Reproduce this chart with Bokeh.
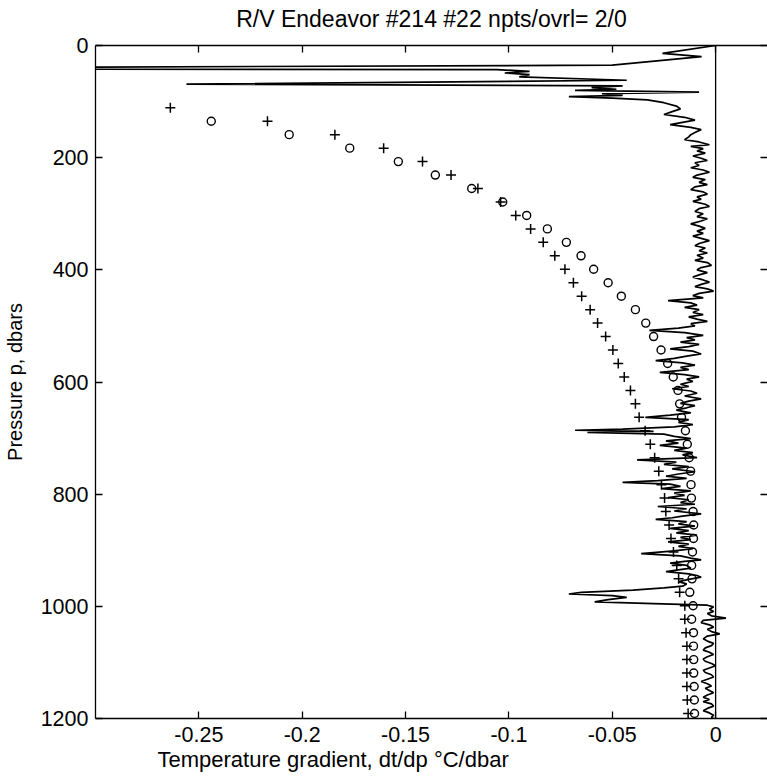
from bokeh.plotting import figure
from bokeh.models import Range1d, LinearAxis, FixedTicker, Span, Title, CustomLabelingPolicy
from bokeh.embed import file_html
from bokeh.resources import INLINE

FONT = "Liberation Sans"

# ---------------- data ----------------
title_text = "R/V Endeavor #214 #22 npts/ovrl= 2/0"
x_label = "Temperature gradient, dt/dp \u00b0C/dbar"
y_label = "Pressure p, dbars"

x_ticks = [-0.25, -0.2, -0.15, -0.1, -0.05, 0.0]
x_tick_labels = ["-0.25", "-0.2", "-0.15", "-0.1", "-0.05", "0"]
y_ticks = [0, 200, 400, 600, 800, 1000, 1200]
y_tick_labels = ["0", "200", "400", "600", "800", "1000", "1200"]

# measured temperature-gradient profile (pressure, dT/dp)
prof_p = [0, 14, 20, 35, 40, 42, 43, 46, 49, 52, 56, 62, 69, 72, 75, 78, 80, 83, 86, 89,
          91, 94, 97, 102, 108, 113, 118, 123, 128, 133, 137, 141, 146, 150, 155, 159, 163, 168, 172, 177,
          180, 184, 188, 192, 197, 201, 205, 209, 214, 218,
          222, 226, 231, 235, 239, 244, 248, 252, 257, 261, 265, 270, 274, 278, 283, 287, 291, 296, 300, 305,
          309, 313, 318, 322, 326, 331, 335, 340, 344, 348, 353, 357, 361, 366, 370, 374, 379, 383, 387, 392,
          396, 400, 405, 409, 413, 418, 422, 426, 430, 434, 438, 442, 446, 450, 455, 459, 463, 467, 471, 476,
          480, 484, 488, 492, 496, 500, 504, 508, 512, 517, 521, 525, 529, 533, 537, 541, 545, 550, 554, 558,
          562, 566, 570, 574, 578, 583, 587, 591, 595, 599, 604, 608, 612, 616, 620, 625, 630, 634, 638, 642,
          646, 650, 655, 659, 663, 667, 672, 676, 680, 684, 686, 688, 690, 693, 697, 701, 705, 709, 713, 718,
          722, 726, 730, 735, 739, 743, 747, 751, 755, 760, 764, 768, 772, 776, 779, 782, 786, 790, 794, 798,
          802, 806, 810, 815, 818, 822, 826, 830, 835, 839, 842, 845, 849, 853, 857, 861, 865, 869, 873, 877,
          881, 885, 889, 893, 897, 901, 906, 910, 914, 917, 920, 923, 927, 932, 935, 938, 942, 945, 948, 952,
          956, 960, 964, 967, 971, 975, 978, 981, 984, 988, 992, 995, 998, 1001, 1005, 1009, 1013, 1017, 1021, 1025,
          1029, 1033, 1037, 1041, 1045, 1049, 1053, 1058, 1062, 1066, 1070, 1074, 1078, 1082, 1086, 1090, 1094, 1098, 1102, 1106,
          1110, 1114, 1118, 1122, 1126, 1130, 1134, 1138, 1142, 1146, 1150, 1154, 1158, 1162, 1166, 1170, 1174, 1178, 1182, 1186,
          1190, 1194, 1198, 1200]
prof_dtdp = [0.000, -0.0257, -0.0068, -0.050, -0.400, -0.400, -0.106, -0.090, -0.102, -0.090, -0.095, -0.043, -0.256, -0.045, -0.060, -0.048, -0.068, -0.008, -0.055, -0.045,
             -0.071, -0.050, -0.033, -0.025, -0.019, -0.017, -0.021, -0.025, -0.015, -0.010, -0.016, -0.022, -0.012, -0.007, -0.010, -0.012, -0.013, -0.015, -0.008, -0.003,
             -0.012, -0.006, -0.009, -0.005, -0.011, -0.007, -0.004, -0.010, -0.008, -0.012,
             -0.006, -0.003, -0.009, -0.011, -0.005, -0.008, -0.004, -0.010, -0.012, -0.006, -0.004, -0.009, -0.007, -0.011, -0.005, -0.003, -0.008, -0.010, -0.006, -0.009,
             -0.004, -0.007, -0.012, -0.008, -0.005, -0.009, -0.006, -0.011, -0.007, -0.003, -0.008, -0.010, -0.005, -0.008, -0.004, -0.009, -0.006, -0.010, -0.004, -0.002,
             -0.007, -0.009, -0.004, -0.008, -0.011, -0.006, -0.003, -0.007, -0.010, -0.004, -0.001, -0.008, -0.011, -0.006, -0.023, -0.012, -0.009, -0.015, -0.008, -0.011,
             -0.006, -0.013, -0.009, -0.004, -0.012, -0.010, -0.018, -0.032, -0.015, -0.006, -0.014, -0.010, -0.017, -0.008, -0.013, -0.022, -0.011, -0.007, -0.014, -0.020,
             -0.029, -0.016, -0.010, -0.017, -0.013, -0.027, -0.015, -0.008, -0.014, -0.011, -0.017, -0.013, -0.021, -0.012, -0.009, -0.015, -0.007, -0.013, -0.017, -0.010,
             -0.014, -0.019, -0.012, -0.022, -0.034, -0.013, -0.018, -0.011, -0.020, -0.045, -0.068, -0.030, -0.062, -0.025, -0.020, -0.012, -0.024, -0.018, -0.027, -0.014,
             -0.020, -0.011, -0.016, -0.009, -0.038, -0.019, -0.025, -0.013, -0.021, -0.010, -0.018, -0.024, -0.014, -0.028, -0.045, -0.022, -0.017, -0.026, -0.012, -0.020,
             -0.015, -0.023, -0.013, -0.017, -0.010, -0.028, -0.014, -0.020, -0.007, -0.016, -0.021, -0.029, -0.014, -0.018, -0.010, -0.022, -0.013, -0.019, -0.009, -0.017,
             -0.012, -0.023, -0.013, -0.018, -0.011, -0.020, -0.036, -0.017, -0.012, -0.007, -0.015, -0.022, -0.014, -0.012, -0.018, -0.024, -0.013, -0.009, -0.007, -0.013,
             -0.018, -0.014, -0.016, -0.025, -0.040, -0.065, -0.071, -0.050, -0.043, -0.052, -0.0585, -0.030, -0.004, -0.001, -0.003, -0.001, -0.004, -0.002, 0.005, -0.006,
             -0.007, -0.003, -0.001, -0.004, -0.002, 0.002, -0.004, -0.006, -0.004, -0.001, -0.002, -0.005, -0.006, -0.003, -0.001, -0.004, -0.006, -0.005, -0.002, 0.000,
             -0.003, -0.006, -0.005, -0.002, -0.001, -0.004, -0.007, -0.004, -0.002, -0.005, -0.003, -0.001, -0.004, -0.006, -0.003, -0.006, -0.002, -0.001, -0.004, -0.006,
             -0.003, -0.001, -0.002, -0.001]

# fitted-gradient estimates at the binned pressures
marker_p = [111, 135, 159, 183, 207, 231, 255, 279, 303, 327,
            351, 375, 399, 423, 447, 471, 495, 519, 543, 567,
            591, 615, 639, 663, 687, 711, 735, 759, 783, 807,
            831, 855, 879, 903, 927, 951, 975, 999, 1023, 1047,
            1071, 1095, 1119, 1143, 1167, 1191]
plus_dtdp = [-0.2638, -0.2168, -0.1842, -0.1606, -0.1418, -0.128, -0.115, -0.104, -0.0967, -0.0895,
             -0.0834, -0.0778, -0.0729, -0.0688, -0.0648, -0.0607, -0.0571, -0.0532, -0.0497, -0.0471,
             -0.0442, -0.0412, -0.0388, -0.0370, -0.0341, -0.0316, -0.0295, -0.0275, -0.0262, -0.0247,
             -0.0241, -0.0225, -0.0216, -0.0204, -0.0188, -0.0179, -0.0174, -0.0149, -0.0149, -0.0143,
             -0.0139, -0.0139, -0.0139, -0.0139, -0.0137, -0.0133]
circ_dtdp = [float("nan"), -0.244, -0.2063, -0.177, -0.1535, -0.1356, -0.118, -0.103, -0.0914, -0.0814,
             -0.0722, -0.0651, -0.0590, -0.0520, -0.0456, -0.0388, -0.0338, -0.0300, -0.0264, -0.0232,
             -0.0205, -0.0182, -0.0174, -0.0165, -0.0146, -0.0137, -0.0128, -0.0121, -0.0119, -0.0117,
             -0.0109, -0.0106, -0.0107, -0.0112, -0.0116, -0.0114, -0.0125, -0.0109, -0.0116, -0.0107,
             -0.0107, -0.0106, -0.0106, -0.0104, -0.0103, -0.0102]

# ---------------- figure ----------------
p = figure(width=767, height=778, output_backend="svg", toolbar_location=None,
           x_range=Range1d(-0.3, 0.0251), y_range=Range1d(1200, 0),
           min_border_left=93, min_border_right=0, min_border_top=45, min_border_bottom=60,
           background_fill_color="white", border_fill_color="white")
p.outline_line_color = None
p.grid.visible = False

no_labels = CustomLabelingPolicy(code="for (let i = 0; i < indices.size; i++) { indices.unset(i) } return indices")

def style_axis(ax, show_labels=True):
    ax.major_tick_in = 7
    ax.major_tick_out = 0
    ax.minor_tick_line_color = None
    ax.axis_line_color = "black"
    ax.axis_line_width = 1.3
    ax.major_tick_line_color = "black"
    ax.major_tick_line_width = 1.3
    ax.major_label_text_font = FONT
    ax.major_label_text_font_size = "21.5px" if show_labels else "0px"
    ax.major_label_text_color = "black"
    ax.axis_label_text_font = FONT
    ax.axis_label_text_font_size = "20px"
    ax.axis_label_text_font_style = "normal"
    ax.axis_label_text_color = "black"

xa = p.xaxis[0]
xa.ticker = FixedTicker(ticks=x_ticks)
xa.major_label_overrides = dict(zip(x_ticks, x_tick_labels))
xa.major_label_standoff = 8
style_axis(xa)

# x-axis title, placed as in the reference (left part of the axis)
xt = Title(text=x_label, align="left", offset=62, standoff=0,
           text_font=FONT, text_font_size="22px", text_font_style="normal", text_color="black")
p.add_layout(xt, "below")

ya = p.yaxis[0]
ya.ticker = FixedTicker(ticks=y_ticks)
ya.major_label_overrides = dict(zip(y_ticks, y_tick_labels))
ya.axis_label = y_label
ya.major_label_standoff = 7
ya.axis_label_standoff = 12
style_axis(ya)

# top frame axis: inward ticks, carries the chart title
top = LinearAxis(ticker=FixedTicker(ticks=x_ticks), major_label_policy=no_labels)
style_axis(top, show_labels=False)
top.major_label_standoff = 0
top.axis_label = title_text
top.axis_label_text_font_size = "23px"
top.axis_label_standoff = 14
p.add_layout(top, "above")

right = LinearAxis(ticker=FixedTicker(ticks=y_ticks), major_label_policy=no_labels)
style_axis(right, show_labels=False)
right.axis_line_color = None
right.major_label_standoff = 0
p.add_layout(right, "right")

p.add_layout(Span(location=0, dimension="height", line_color="black", line_width=1.3))

p.line(prof_dtdp, prof_p, line_color="black", line_width=1.7)
p.scatter(plus_dtdp, marker_p, marker="cross", size=10, line_color="black", line_width=1.5)
p.scatter(circ_dtdp, marker_p, marker="circle", size=8, fill_color=None, line_color="black", line_width=1.4)

open("out.html", "w").write(file_html(p, INLINE))
